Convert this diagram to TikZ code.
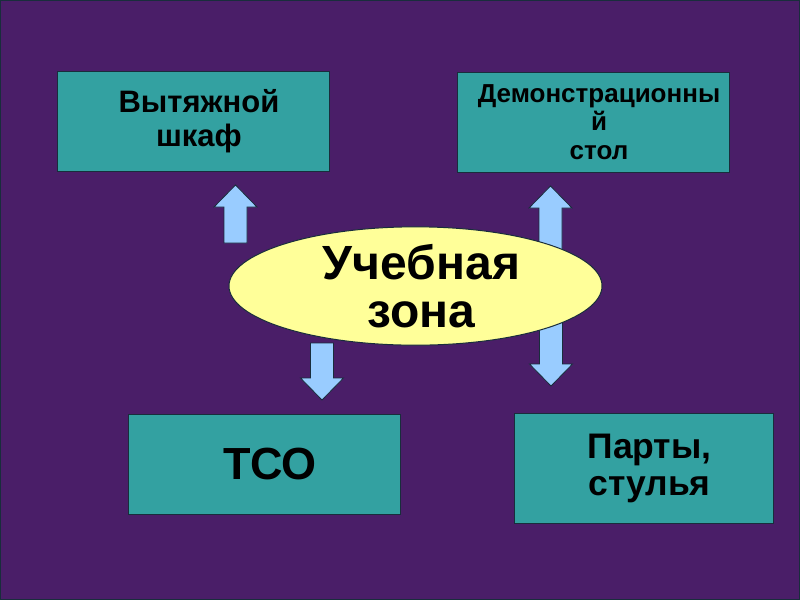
\documentclass[tikz,border=0pt]{standalone}
\usepackage{fontspec}
\setmainfont{Liberation Sans}
\usetikzlibrary{positioning,shapes.geometric}
\definecolor{slidebg}{RGB}{74,30,104}
\definecolor{boxteal}{RGB}{51,161,161}
\definecolor{zoneyellow}{RGB}{255,255,153}
\definecolor{arrowblue}{RGB}{153,204,255}
\definecolor{edgedark}{RGB}{25,45,60}
\newcommand\padln{\hspace*{12pt}}

\begin{document}
\begin{tikzpicture}[x=1pt,y=-1pt,
    zonebox/.style={draw=edgedark,fill=boxteal,line width=1pt,minimum width=272pt,
      minimum height=100pt,inner sep=2pt,align=center,font=\bfseries},
    blockarrow/.style={draw=edgedark,fill=arrowblue,line width=0.8pt,line join=miter}]
  % slide background, 800 x 600
  \fill[slidebg] (0,0) rectangle (800,600);
  \draw[edgedark,line width=1pt] (0.5,0.5) rectangle (799.5,599.5);
  \useasboundingbox (0,0) rectangle (800,600);
  % boxes
  \node[zonebox,font=\fontsize{31}{34}\selectfont\bfseries] (hood) at (193,121.5)
    {\padln Вытяжной\\\padln шкаф};
  \node[zonebox,font=\fontsize{26}{28.5}\selectfont\bfseries] (demo) at (593,122)
    {\padln Демонстрационны\\\padln й\\\padln стол};
  \node[zonebox,font=\fontsize{45}{46}\selectfont\bfseries] (tso) at (264,464) {\padln ТСО};
  \node[zonebox,minimum width=259pt,minimum height=110pt,
    font=\fontsize{35.5}{37}\selectfont\bfseries] (desks) at (643.5,468)
    {\padln Парты,\\\padln стулья};
  % block arrows (up: centre/tip/tail, down: centre/tail/tip)
  \foreach \cx/\tip/\tail in {235.5/185/243, 550.5/186/250}
    \draw[blockarrow] (\cx-11.5,\tail) -- (\cx-11.5,\tip+22) -- (\cx-21.5,\tip+22) -- (\cx,\tip)
      -- (\cx+21.5,\tip+22) -- (\cx+11.5,\tip+22) -- (\cx+11.5,\tail) -- cycle;
  \foreach \cx/\tail/\tip in {322/343/400, 551/320/386}
    \draw[blockarrow] (\cx-11.5,\tail) -- (\cx-11.5,\tip-22) -- (\cx-21.5,\tip-22) -- (\cx,\tip)
      -- (\cx+21.5,\tip-22) -- (\cx+11.5,\tip-22) -- (\cx+11.5,\tail) -- cycle;
  % central zone
  \node[ellipse,draw=edgedark,fill=zoneyellow,line width=1pt,minimum width=373pt,
    minimum height=115pt,inner sep=0pt,align=center,
    font=\fontsize{48}{48}\selectfont\bfseries] (zone) at (415.5,286)
    {\padln Учебная\\\padln зона};
\end{tikzpicture}
\end{document}
